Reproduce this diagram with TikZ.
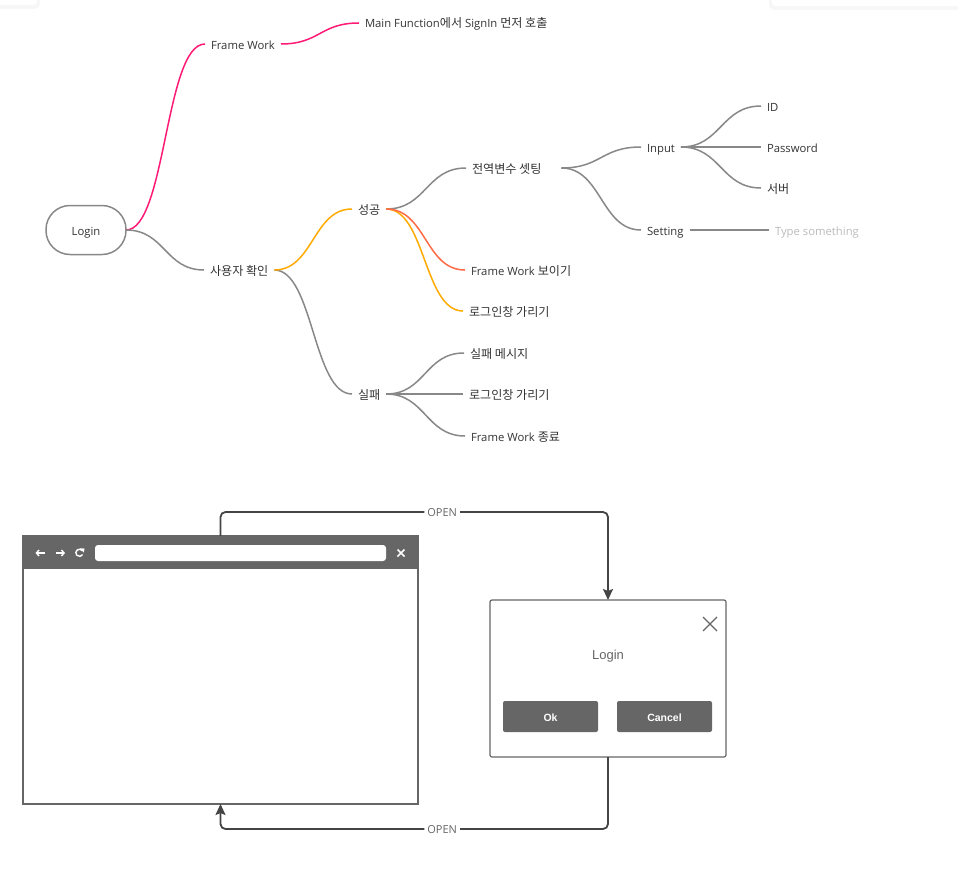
\documentclass[tikz,border=0pt]{standalone}
\usepackage{fontspec}
\setmainfont{Open Sans}
\newfontfamily\kr[Scale=1.07]{Noto Sans CJK KR}
\newfontfamily\arial{Liberation Sans}
\usetikzlibrary{arrows.meta,calc}
\definecolor{txt}{HTML}{333333}
\definecolor{mmgray}{HTML}{888888}
\definecolor{mmpink}{HTML}{FF1A75}
\definecolor{mmorange}{HTML}{FFAA00}
\definecolor{mmred}{HTML}{FF6A45}
\definecolor{uigray}{HTML}{666666}
\definecolor{arrowc}{HTML}{444444}
\definecolor{faint}{HTML}{BBBBBB}
\begin{document}
\begin{tikzpicture}[x=1pt,y=-1pt,
  mmtext/.style={anchor=west, inner xsep=6pt, inner ysep=0pt, outer sep=0pt,
    text height=10pt, text depth=0pt, font=\fontsize{11.3}{13}\selectfont, text=txt},
  mmline/.style={line width=1.5pt, mmgray},
  rootbox/.style={draw=mmgray, line width=1.5pt, rounded corners=24pt,
    minimum width=80pt, minimum height=49pt, inner sep=0pt, outer sep=0pt,
    text height=10pt, text depth=0pt,
    font=\fontsize{11.3}{13}\selectfont, text=txt},
  uibox/.style={draw=uigray, line width=1.2pt, inner sep=0pt, outer sep=0pt},
  btn/.style={fill=uigray, rounded corners=2pt, minimum width=95pt, minimum height=31pt,
    inner sep=0pt, text height=10pt, text depth=0pt, text=white,
    font=\arial\bfseries\fontsize{10.5}{12}\selectfont},
  flow/.style={draw=arrowc, line width=1.8pt, rounded corners=5pt,
    -{Stealth[length=11pt,width=10pt,inset=2pt]}},
  openlbl/.style={fill=white, inner xsep=3pt, inner ysep=1pt, text=uigray,
    text height=9pt, text depth=0pt, font=\fontsize{11}{13}\selectfont}
]
\useasboundingbox (0,0) rectangle (958,875);
% faint UI corners
\fill[black!3, rounded corners=5pt] (-20,-20) rectangle (40,9);
\fill[white, rounded corners=4pt] (-20,-20) rectangle (37,5);
\fill[black!3, rounded corners=5pt] (769,-20) rectangle (990,10);
\fill[white, rounded corners=4pt] (772,-20) rectangle (990,6);

% ---------- mind map nodes ----------
\node[rootbox] (login) at (86,230) {Login};
\node[mmtext] (fw) at (205,44) {Frame Work};
\node[mmtext] (mainf) at (359,23) {Main Function{\kr 에서} SignIn {\kr 먼저 호출}};
\node[mmtext] (user) at (204,270) {\kr 사용자 확인};
\node[mmtext] (succ) at (352,209) {\kr 성공};
\node[mmtext] (fail) at (352,394) {\kr 실패};
\node[mmtext] (glob) at (466,168) {\kr 전역변수 셋팅};
\node[mmtext] (fwshow) at (465,270) {Frame Work {\kr 보이기}};
\node[mmtext] (hide1) at (463,311) {\kr 로그인창 가리기};
\node[mmtext] (input) at (641,147) {Input};
\node[mmtext] (setting) at (641,230) {Setting};
\node[mmtext] (id) at (761,106) {ID};
\node[mmtext] (pw) at (761,147) {Password};
\node[mmtext] (server) at (761,188) {\kr 서버};
\node[mmtext, text=faint] (type) at (769,230) {Type something};
\node[mmtext] (fmsg) at (464,353) {\kr 실패 메시지};
\node[mmtext] (hide2) at (463,394) {\kr 로그인창 가리기};
\node[mmtext] (fwend) at (465,436) {Frame Work {\kr 종료}};

% ---------- mind map links ----------
\draw[mmline, mmpink] (login.east) .. controls +(40,0) and +(-40,0) .. (fw.west);
\draw[mmline, mmpink] (fw.east) .. controls +(39,0) and +(-39,0) .. (mainf.west);
\draw[mmline] (login.east) .. controls +(39,0) and +(-39,0) .. (user.west);
\draw[mmline] (user.east) .. controls +(39,0) and +(-39,0) .. (fail.west);
\draw[mmline, mmorange] (user.east) .. controls +(39,0) and +(-39,0) .. (succ.west);
\draw[mmline] (succ.east) .. controls +(40,0) and +(-40,0) .. (glob.west);
\draw[mmline, mmorange] (succ.east) .. controls +(39,0) and +(-39,0) .. (hide1.west);
\draw[mmline, mmred] (succ.east) .. controls +(40,0) and +(-40,0) .. (fwshow.west);
\draw[mmline] ([xshift=14pt]glob.east) .. controls +(40,0) and +(-40,0) .. (input.west);
\draw[mmline] ([xshift=14pt]glob.east) .. controls +(40,0) and +(-40,0) .. (setting.west);
\draw[mmline] (input.east) .. controls +(40,0) and +(-40,0) .. (id.west);
\draw[mmline] (input.east) -- (pw.west);
\draw[mmline] (input.east) .. controls +(40,0) and +(-40,0) .. (server.west);
\draw[mmline] (setting.east) -- (type.west);
\draw[mmline] (fail.east) .. controls +(39,0) and +(-39,0) .. (fmsg.west);
\draw[mmline] (fail.east) -- (hide2.west);
\draw[mmline] (fail.east) .. controls +(39,0) and +(-39,0) .. (fwend.west);

% ---------- browser window ----------
\node[uibox, minimum width=395pt, minimum height=268pt] (browser) at (220.5,670) {};
\fill[uigray] (23,536) rectangle (418,569);
\fill[white, rounded corners=3pt] (95,545) rectangle (386,561);
\draw[white, line width=1.4pt, -{Straight Barb[length=2.6pt,width=6pt]}] (45,553) -- (35.5,553);
\draw[white, line width=1.4pt, -{Straight Barb[length=2.6pt,width=6pt]}] (55.5,553) -- (65,553);
\draw[white, line width=1.4pt] (82.2,550.5) arc[start angle=40, end angle=330, radius=3.6pt];
\fill[white] (80.2,548.2) -- (84.6,548.6) -- (83.6,552.6) -- cycle;
\draw[white, line width=1.6pt] (397.5,549.5) -- (404.5,556.5) (404.5,549.5) -- (397.5,556.5);

% ---------- login dialog ----------
\node[uibox, rounded corners=2pt, minimum width=236pt, minimum height=157pt] (dialog) at (608,678.5) {};
\node[text=uigray, font=\arial\fontsize{13}{15}\selectfont, inner sep=0pt,
  text height=8pt, text depth=0pt] (dlgtitle) at (608,655) {Login};
\draw[uigray, line width=1.1pt] (703,617) -- (717,631) (717,617) -- (703,631);
\node[btn] (ok) at (550.5,716.5) {Ok};
\node[btn] (cancel) at (664.5,716.5) {Cancel};

% ---------- flow arrows ----------
\draw[flow] (browser.north) -- ++(0,-24) -| node[pos=0.286, openlbl] (open1) {OPEN} (dialog.north);
\draw[flow] (dialog.south) -- ++(0,72) -| node[pos=0.214, openlbl] (open2) {OPEN} (browser.south);
\end{tikzpicture}
\end{document}
